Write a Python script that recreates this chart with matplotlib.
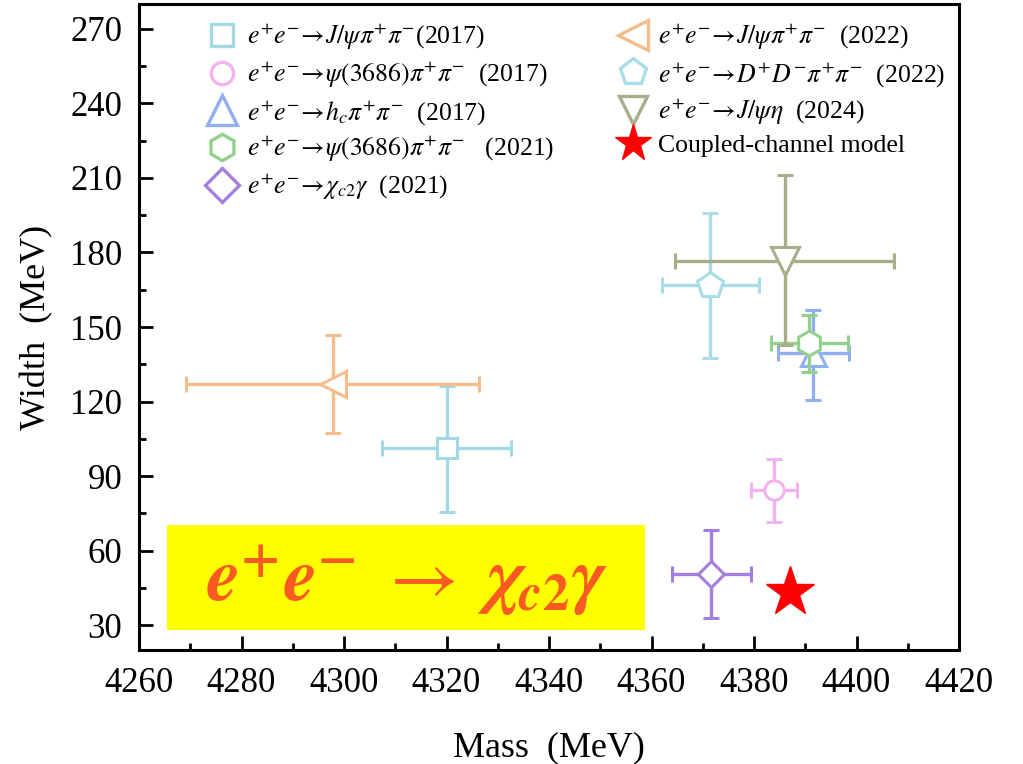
import matplotlib
matplotlib.use("Agg")
import matplotlib.pyplot as plt
from matplotlib.lines import Line2D
from matplotlib.patches import Rectangle

plt.rcParams['font.family'] = ['Liberation Serif', 'DejaVu Serif']
plt.rcParams['mathtext.fontset'] = 'stix'

# ---- data ----
labels = [
    r'$e^{+}e^{-}\!\rightarrow\! J/\psi\pi^{+}\pi^{-}$(2017)',
    r'$e^{+}e^{-}\!\rightarrow\!\psi\mathrm{(3686)}\pi^{+}\pi^{-}$  (2017)',
    r'$e^{+}e^{-}\!\rightarrow\! h_{c}\pi^{+}\pi^{-}$  (2017)',
    r'$e^{+}e^{-}\!\rightarrow\!\psi\mathrm{(3686)}\pi^{+}\pi^{-}$   (2021)',
    r'$e^{+}e^{-}\!\rightarrow\!\chi_{c2}\gamma$  (2021)',
    r'$e^{+}e^{-}\!\rightarrow\! J/\psi\pi^{+}\pi^{-}$  (2022)',
    r'$e^{+}e^{-}\!\rightarrow\! D^{+}D^{-}\pi^{+}\pi^{-}$  (2022)',
    r'$e^{+}e^{-}\!\rightarrow\! J/\psi\eta$  (2024)',
]
mass = [4320.0, 4383.9, 4391.6, 4390.8, 4371.7, 4297.8, 4371.5, 4386.0]
mass_err = [12.5, 4.4, 6.9, 7.5, 7.7, 28.6, 9.5, 21.4]
width = [101.4, 84.3, 139.5, 143.4, 50.6, 127.0, 166.9, 176.6]
width_err_lo = [26.0, 12.7, 19.0, 11.4, 17.7, 19.7, 29.3, 34.0]
width_err_hi = [25.0, 12.7, 17.5, 11.4, 17.7, 19.7, 29.1, 34.6]

model_label = 'Coupled-channel model'
model_mass = [4387.1]
model_width = [43.5]

# ---- styles ----
markers = ['s', 'o', '^', 'h', 'D', '<', 'p', 'v']
colors = ['#a3d9e2', '#f3b3ef', '#91aff0', '#92d08c', '#a47fdf',
          '#f6bd8c', '#a9dde7', '#a9ad8a']
msizes = [14, 14, 18, 18, 13, 19, 19, 20]

fig = plt.figure(figsize=(10.23, 7.64), dpi=100)
ax = fig.add_axes([139/1023, 1-650/764, 820/1023, 646/764])

for i in range(len(mass)):
    ax.errorbar([mass[i]], [width[i]], xerr=[[mass_err[i]], [mass_err[i]]],
                yerr=[[width_err_lo[i]], [width_err_hi[i]]],
                fmt=markers[i], color=colors[i], mfc='white', mec=colors[i],
                ms=msizes[i], mew=2.2, elinewidth=2.4, capsize=6, capthick=2.4,
                zorder=3+i)

ax.plot(model_mass, model_width, linestyle='none', marker='*', color='#ff0000',
        ms=37, zorder=20)

ax.set_xlim(4260, 4420)
ax.set_ylim(20, 280)
ax.set_xticks(range(4260, 4421, 20))
ax.set_xticks(range(4270, 4420, 20), minor=True)
ax.set_yticks(range(30, 271, 30))
ax.set_yticks(range(45, 280, 30), minor=True)
ax.tick_params(which='both', direction='in', width=2, labelsize=25)
ax.tick_params(which='major', length=10, pad=12)
ax.tick_params(which='minor', length=5)
ax.tick_params(axis='y', pad=12)
for s in ax.spines.values():
    s.set_linewidth(2.2)

ax.set_xlabel('Mass  (MeV)', fontsize=26, labelpad=23)
ax.set_ylabel('Width  (MeV)', fontsize=26, labelpad=12)

# legend
handles = []
lsizes = [16, 16, 21, 19, 17, 21, 20, 20]
for i in range(len(mass)):
    handles.append(Line2D([], [], linestyle='none', marker=markers[i],
                          mfc='white', mec=colors[i], ms=lsizes[i], mew=2.4))
handles.append(Line2D([], [], linestyle='none', marker='*', color='#ff0000', ms=28))
leg = ax.legend(handles, labels + [model_label], ncol=2, frameon=False,
                loc='upper left', bbox_to_anchor=(0.0854, 0.972), fontsize=18.5,
                handlelength=1.0, handletextpad=0.47, labelspacing=0.3,
                columnspacing=2.57, borderpad=0, borderaxespad=0)

# yellow highlight box
ax.add_patch(Rectangle((0.034, 0.031), 0.583, 0.163, transform=ax.transAxes,
                       facecolor='#ffff00', edgecolor='none', zorder=30,
                       clip_on=False))
ax.text(0.327, 0.108,
        r'$\mathbfit{e}^{\mathbf{+}}\mathbfit{e}^{\mathbf{-}}\ \rightarrow\ \mathbfit{\chi}_{\mathbfit{c}\mathbf{2}}\mathbfit{\gamma}$',
        transform=ax.transAxes, ha='center', va='center', fontsize=54,
        color='#f85a22', zorder=31)

fig.savefig('out.png', dpi=100)
